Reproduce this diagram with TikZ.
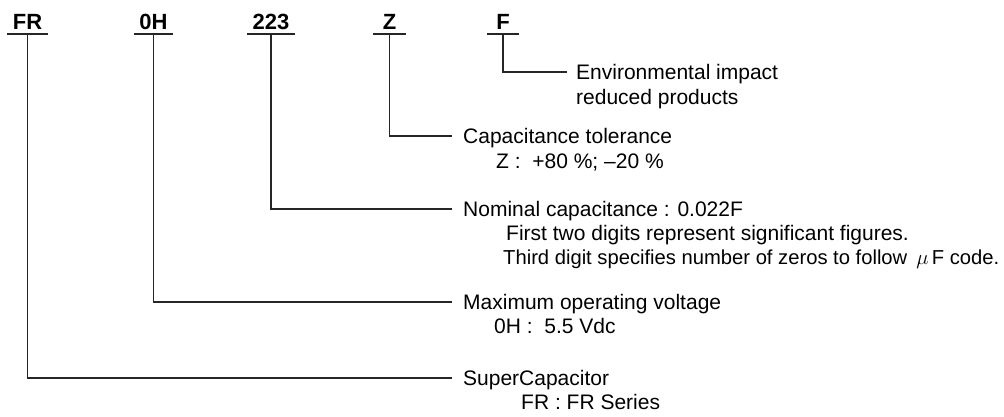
\documentclass[tikz,border=0pt]{standalone}
\usepackage{fontspec}
\setmainfont{Liberation Sans}
\begin{document}
\begin{tikzpicture}[x=1pt,y=-1pt,
  code/.style={font=\fontsize{22}{24}\selectfont\bfseries, inner sep=0pt, anchor=base},
  desc/.style={font=\fontsize{21}{24}\selectfont, inner sep=0pt, anchor=base west},
  lead/.style={line width=1.1pt, black!85}]
\useasboundingbox (0,0) rectangle (1004,416);
% part-number codes
\node[code, minimum width=41pt] (fr)  at (27.5,29) {FR};
\node[code, minimum width=39pt] (oh)  at (153.5,29) {0H};
\node[code, minimum width=47pt] (num) at (271,29) {223};
\node[code, minimum width=33pt] (z)   at (389.5,29) {Z};
\node[code, minimum width=32pt] (f)   at (503,29) {F};
\foreach \n in {fr,oh,num,z,f}
  \draw[lead] ([yshift=-5pt]\n.base west) -- ([yshift=-5pt]\n.base east);
% descriptions
\node[desc] (env)   at (576,79)  {Environmental impact};
\node[desc] (envb)  at (576,104) {reduced products};
\node[desc] (tol)   at (463,143) {Capacitance tolerance};
\node[desc] (tolb)  at (496,168) {Z :\ \ +80 \%; –20 \%};
\node[desc] (cap)   at (463,216) {Nominal capacitance : 0.022F};
\node[desc] (capb)  at (506,240) {First two digits represent significant figures.};
\node[desc, font=\fontsize{20.2}{24}\selectfont] (capc) at (503,264) {Third digit specifies number of zeros to follow \,$\mu$\,F code.};
\node[desc] (volt)  at (463,309) {Maximum operating voltage};
\node[desc] (voltb) at (494,333) {0H :\ \ 5.5 Vdc};
\node[desc] (sc)    at (463,385) {SuperCapacitor};
\node[desc] (scb)   at (521,409) {FR : FR Series};
% leaders
\draw[lead] ([yshift=-5pt]f.base)   |- ([xshift=-9pt,yshift=7pt]env.base west);
\draw[lead] ([yshift=-5pt]z.base)   |- ([xshift=-11pt,yshift=7pt]tol.base west);
\draw[lead] ([yshift=-5pt]num.base) |- ([xshift=-11pt,yshift=7pt]cap.base west);
\draw[lead] ([yshift=-5pt]oh.base)  |- ([xshift=-11pt,yshift=7pt]volt.base west);
\draw[lead] ([yshift=-5pt]fr.base)  |- ([xshift=-11pt,yshift=7pt]sc.base west);
\end{tikzpicture}
\end{document}
